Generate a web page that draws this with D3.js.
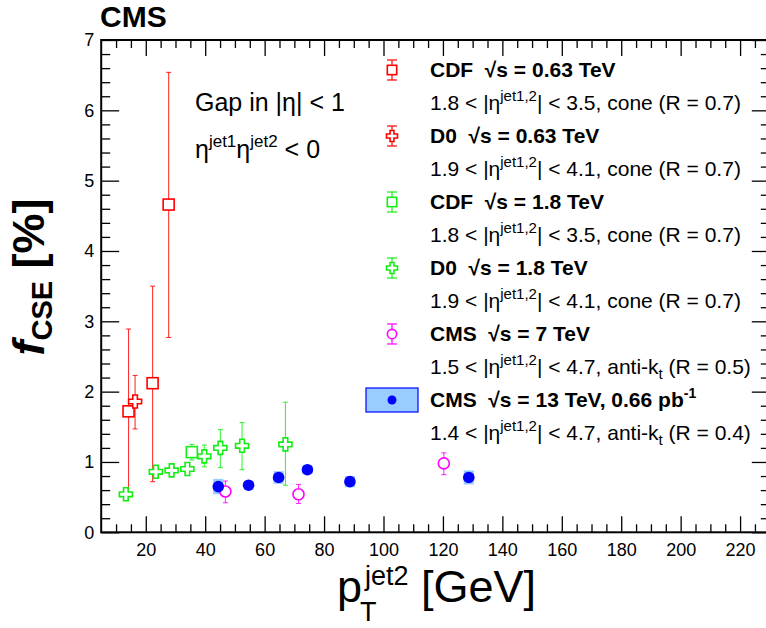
<!DOCTYPE html>
<html>
<head>
<meta charset="utf-8">
<script src="https://cdn.jsdelivr.net/npm/d3@7"></script>
<style>
body { margin: 0; background: #fff; }
text { font-family: "Liberation Sans", Arial, sans-serif; fill: #000; }
</style>
</head>
<body>
<svg width="766" height="628"></svg>
<script>
// CDF sqrt(s) = 0.63 TeV
const cdf063X = [14.2, 22.3, 27.7];
const cdf063Y = [1.72, 2.12, 4.66];
const cdf063Up = [1.17, 1.38, 1.88];
const cdf063Dn = [1.16, 1.40, 1.89];
// D0 sqrt(s) = 0.63 TeV
const d0063X = [16.4];
const d0063Y = [1.86];
const d0063Up = [0.37];
const d0063Dn = [0.39];
// CDF sqrt(s) = 1.8 TeV
const cdf18X = [35.5];
const cdf18Y = [1.14];
const cdf18Up = [0.11];
const cdf18Dn = [0.11];
// D0 sqrt(s) = 1.8 TeV
const d018X = [13.3, 23.4, 28.7, 34.0, 39.7, 45.1, 52.4, 67.0];
const d018Y = [0.54, 0.86, 0.88, 0.90, 1.08, 1.20, 1.23, 1.25];
const d018Up = [0.04, 0.05, 0.05, 0.07, 0.16, 0.26, 0.33, 0.60];
const d018Dn = [0.04, 0.05, 0.05, 0.07, 0.15, 0.28, 0.34, 0.58];
// CMS 7 TeV
const cms7X = [46.8, 71.4, 120.3];
const cms7Y = [0.58, 0.54, 0.98];
const cms7Up = [0.15, 0.14, 0.15];
const cms7Dn = [0.16, 0.13, 0.16];
// CMS 13 TeV
const cms13X = [44.4, 54.6, 64.7, 74.4, 88.7, 128.7];
const cms13Y = [0.65, 0.67, 0.78, 0.89, 0.72, 0.78];
const cms13Sys = [0.11, 0.06, 0.09, 0.06, 0.08, 0.10];
const cms13BinHalf = 1.7;

const xMajor = [20, 40, 60, 80, 100, 120, 140, 160, 180, 200, 220];
const yMajor = [0, 1, 2, 3, 4, 5, 6, 7];

const legendTitles = ["CDF  \u221As = 0.63 TeV", "D0  \u221As = 0.63 TeV", "CDF  \u221As = 1.8 TeV",
                      "D0  \u221As = 1.8 TeV", "CMS  \u221As = 7 TeV", "CMS  \u221As = 13 TeV, 0.66 pb"];
const legendCuts = [["1.8", "3.5", "cone", "0.7"], ["1.9", "4.1", "cone", "0.7"], ["1.8", "3.5", "cone", "0.7"],
                    ["1.9", "4.1", "cone", "0.7"], ["1.5", "4.7", "anti-k", "0.5"], ["1.4", "4.7", "anti-k", "0.4"]];

const svg = d3.select("svg");

const x = d3.scaleLinear().domain([5, 230]).range([101.2, 769.8]);
const y = d3.scaleLinear().domain([0, 7]).range([532.3, 40]);

const RED = "#ff0000", GREEN = "#11ee11", MAGENTA = "#ff00ff", BLUE = "#0000ff", LIGHT = "#99ccff";

// axes
function drawAxis(axis, tx, ty, showLabels) {
    const g = svg.append("g")
        .attr("transform", `translate(${tx},${ty})`)
        .call(axis);
    g.select(".domain").remove();
    g.selectAll(".tick line").attr("stroke", "#000").attr("stroke-width", 1.3);
    g.selectAll(".tick text").attr("font-size", 18).attr("font-family", "Liberation Sans, Arial, sans-serif");
    if (!showLabels) g.selectAll(".tick text").remove();
    return g;
}

const xMinor = d3.range(10, 230, 5).filter(v => v % 20 !== 0);
const yMinor = d3.range(0, 7.01, 0.2).map(v => +v.toFixed(1)).filter(v => Math.abs(v - Math.round(v)) > 0.01);

drawAxis(d3.axisBottom(x).tickValues(xMajor).tickSize(-16).tickPadding(11), 0, y(0), true);
drawAxis(d3.axisBottom(x).tickValues(xMinor).tickSize(-8).tickFormat(""), 0, y(0), false);
drawAxis(d3.axisTop(x).tickValues(xMajor).tickSize(-16).tickFormat(""), 0, y(7), false);
drawAxis(d3.axisTop(x).tickValues(xMinor).tickSize(-8).tickFormat(""), 0, y(7), false);
drawAxis(d3.axisLeft(y).tickValues(yMajor).tickSize(-18).tickPadding(7).tickFormat(d3.format("d")), x(5), 0, true);
drawAxis(d3.axisLeft(y).tickValues(yMinor).tickSize(-9).tickFormat(""), x(5), 0, false);
drawAxis(d3.axisRight(y).tickValues(yMajor).tickSize(-18).tickFormat(""), x(230), 0, false);
drawAxis(d3.axisRight(y).tickValues(yMinor).tickSize(-9).tickFormat(""), x(230), 0, false);

svg.append("rect")
    .attr("x", x(5)).attr("y", y(7))
    .attr("width", x(230) - x(5)).attr("height", y(0) - y(7))
    .attr("fill", "none").attr("stroke", "#000").attr("stroke-width", 2);

// markers
const crossPath = (s, a) => `M${-a},${-s}L${a},${-s}L${a},${-a}L${s},${-a}L${s},${a}L${a},${a}L${a},${s}L${-a},${s}L${-a},${a}L${-s},${a}L${-s},${-a}L${-a},${-a}Z`;

function marker(g, kind, color, cx, cy, big) {
    const k = big ? 1 : 0.85;
    if (kind === "square") {
        g.append("rect").attr("x", cx - 5.5 * k).attr("y", cy - 5.5 * k)
            .attr("width", 11 * k).attr("height", 11 * k)
            .attr("fill", "#fff").attr("stroke", color).attr("stroke-width", 1.6);
    } else if (kind === "cross") {
        g.append("path").attr("d", crossPath(6.5 * k, 2.3 * k))
            .attr("transform", `translate(${cx},${cy})`)
            .attr("fill", "#fff").attr("stroke", color).attr("stroke-width", 1.6);
    } else if (kind === "circle") {
        g.append("circle").attr("cx", cx).attr("cy", cy).attr("r", 5.5 * k)
            .attr("fill", "#fff").attr("stroke", color).attr("stroke-width", 1.6);
    } else {
        g.append("circle").attr("cx", cx).attr("cy", cy).attr("r", big ? 5.8 : 4.5)
            .attr("fill", color);
    }
}

function errorBars(g, color, xs, ys, up, dn, cap) {
    xs.forEach((xv, i) => {
        const px = x(xv), y1 = y(ys[i] + up[i]), y2 = y(ys[i] - dn[i]);
        g.append("line").attr("x1", px).attr("x2", px).attr("y1", y1).attr("y2", y2)
            .attr("stroke", color).attr("stroke-width", 1.1).attr("stroke-opacity", 0.8);
        [y1, y2].forEach(yy => g.append("line")
            .attr("x1", px - cap).attr("x2", px + cap).attr("y1", yy).attr("y2", yy)
            .attr("stroke", color).attr("stroke-width", 1.1).attr("stroke-opacity", 0.8));
    });
}

const plot = svg.append("g");

const series = [
    { xs: cdf063X, ys: cdf063Y, up: cdf063Up, dn: cdf063Dn, color: RED, kind: "square" },
    { xs: d0063X, ys: d0063Y, up: d0063Up, dn: d0063Dn, color: RED, kind: "cross" },
    { xs: cdf18X, ys: cdf18Y, up: cdf18Up, dn: cdf18Dn, color: GREEN, kind: "square" },
    { xs: d018X, ys: d018Y, up: d018Up, dn: d018Dn, color: GREEN, kind: "cross" },
    { xs: cms7X, ys: cms7Y, up: cms7Up, dn: cms7Dn, color: MAGENTA, kind: "circle" }
];

series.forEach(s => errorBars(plot, s.color, s.xs, s.ys, s.up, s.dn, 2.5));

// CMS 13 TeV systematic boxes
plot.selectAll("rect.sys")
    .data(cms13X)
    .enter()
    .append("rect")
    .attr("class", "sys")
    .attr("x", d => x(d - cms13BinHalf))
    .attr("width", d => x(d + cms13BinHalf) - x(d - cms13BinHalf))
    .attr("y", (d, i) => y(cms13Y[i] + cms13Sys[i]))
    .attr("height", (d, i) => y(cms13Y[i] - cms13Sys[i]) - y(cms13Y[i] + cms13Sys[i]))
    .attr("fill", LIGHT);

series.forEach(s => s.xs.forEach((xv, i) => marker(plot, s.kind, s.color, x(xv), y(s.ys[i]), true)));
cms13X.forEach((xv, i) => marker(plot, "dot", BLUE, x(xv), y(cms13Y[i]), true));

// texts
svg.append("text").attr("x", 100).attr("y", 27)
    .attr("font-size", 30).attr("font-weight", "bold").text("CMS");

svg.append("text").attr("x", 195).attr("y", 111).attr("font-size", 25).text("Gap in |\u03B7| < 1");
const eta = svg.append("text").attr("x", 195).attr("y", 158).attr("font-size", 25);
eta.append("tspan").text("\u03B7");
eta.append("tspan").attr("font-size", 17).attr("dy", -11).text("jet1");
eta.append("tspan").attr("dy", 11).text("\u03B7");
eta.append("tspan").attr("font-size", 17).attr("dy", -11).text("jet2");
eta.append("tspan").attr("dy", 11).text(" < 0");

// legend
const legendKinds = ["square", "cross", "square", "cross", "circle", "dot"];
const legendColors = [RED, RED, GREEN, GREEN, MAGENTA, BLUE];
const rowY = i => 70 + i * 33;
const leg = svg.append("g");

legendTitles.forEach((t, i) => {
    const cy = rowY(2 * i);
    const mx = 392;
    if (legendKinds[i] === "dot") {
        leg.append("rect").attr("x", 366).attr("y", cy - 12).attr("width", 52).attr("height", 24)
            .attr("fill", LIGHT).attr("stroke", BLUE).attr("stroke-width", 1.2);
        marker(leg, "dot", BLUE, mx, cy, false);
    } else {
        leg.append("line").attr("x1", mx).attr("x2", mx).attr("y1", cy - 10).attr("y2", cy + 10)
            .attr("stroke", legendColors[i]).attr("stroke-width", 1.2);
        [cy - 10, cy + 10].forEach(yy => leg.append("line")
            .attr("x1", mx - 5).attr("x2", mx + 5).attr("y1", yy).attr("y2", yy)
            .attr("stroke", legendColors[i]).attr("stroke-width", 1.2));
        marker(leg, legendKinds[i], legendColors[i], mx, cy, false);
    }

    const tt = leg.append("text").attr("x", 430).attr("y", cy + 7)
        .attr("font-size", 21).attr("font-weight", "bold")
        .attr("xml:space", "preserve").text(t);
    if (i === 5) tt.append("tspan").attr("font-size", 14).attr("dy", -9).text("-1");

    const c = legendCuts[i];
    const dt = leg.append("text").attr("x", 430).attr("y", rowY(2 * i + 1) + 7).attr("font-size", 21);
    dt.append("tspan").text(`${c[0]} < |\u03B7`);
    dt.append("tspan").attr("font-size", 15).attr("dy", -9).text("jet1,2");
    dt.append("tspan").attr("dy", 9).text(`| < ${c[1]}, ${c[2]}`);
    if (c[2] === "anti-k") {
        dt.append("tspan").attr("font-size", 15).attr("dy", 5).text("t");
        dt.append("tspan").attr("dy", -5).text(` (R = ${c[3]})`);
    } else {
        dt.append("tspan").text(` (R = ${c[3]})`);
    }
});

// axis titles
const yt = svg.append("text")
    .attr("transform", "translate(44,277) rotate(-90)")
    .attr("text-anchor", "middle").attr("font-weight", "bold");
yt.append("tspan").attr("font-size", 45).attr("font-style", "italic").text("f");
yt.append("tspan").attr("font-size", 29).attr("dy", 8).text("CSE");
yt.append("tspan").attr("font-size", 45).attr("dy", -8).text(" [%]");

const xt = svg.append("text").attr("x", 337).attr("y", 602).attr("font-size", 45);
xt.append("tspan").text("p");
xt.append("tspan").attr("font-size", 27).attr("x", 365).attr("dy", -17).text("jet2");
xt.append("tspan").attr("font-size", 27).attr("x", 360).attr("dy", 36).text("T");
xt.append("tspan").attr("x", 421).attr("dy", -19).text("[GeV]");
</script>
</body>
</html>
